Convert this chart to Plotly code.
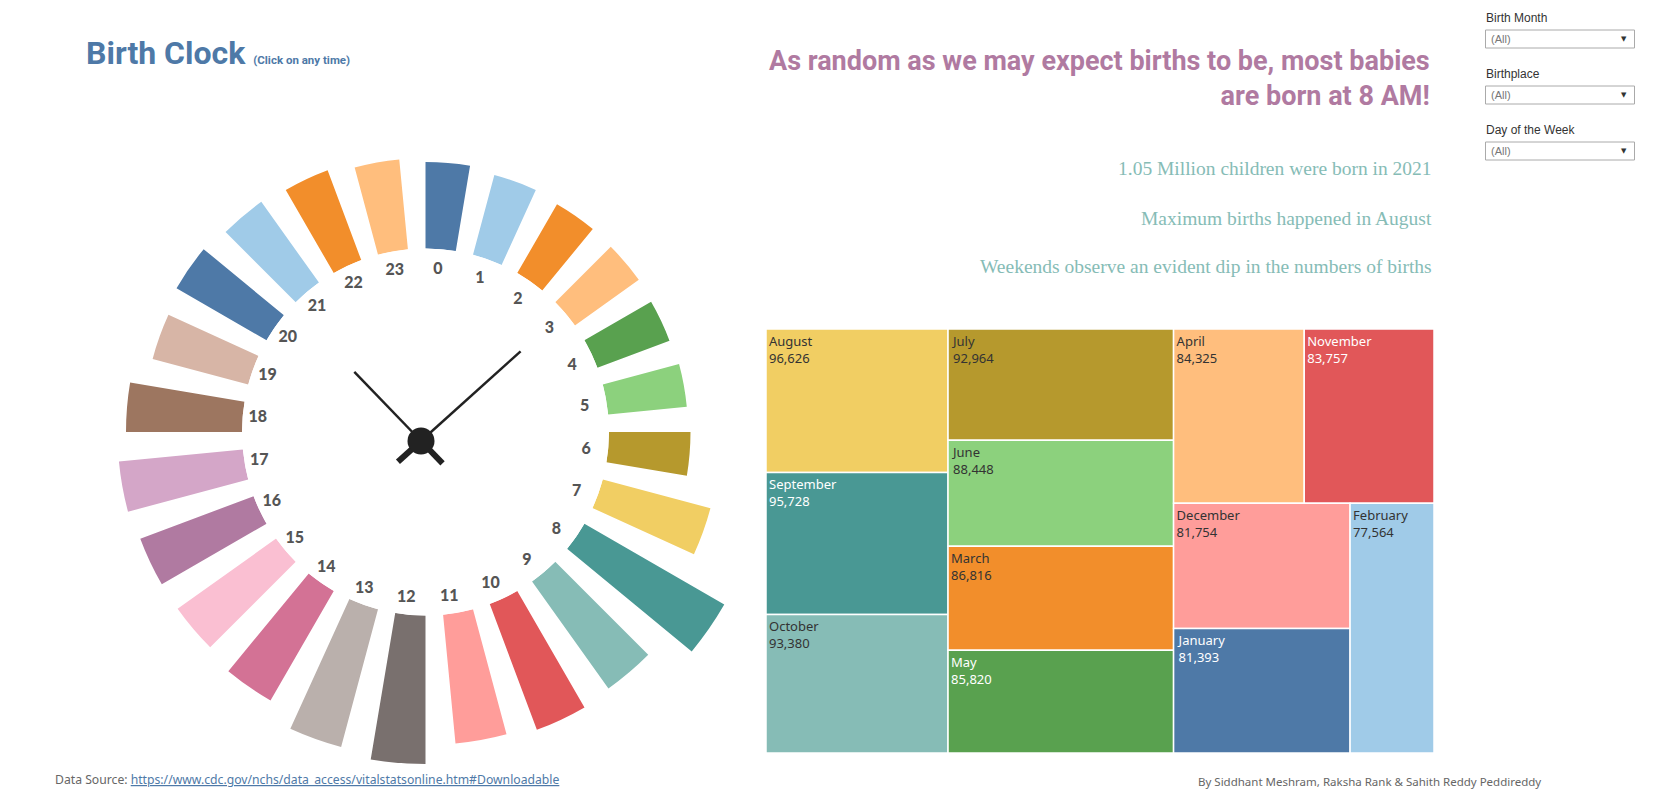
import plotly.graph_objects as go

W, H = 1677, 792

# ---------------- data ----------------
hours = list(range(24))
hour_labels = [str(h) for h in hours]
hour_births = [34600, 33000, 31800, 31400, 30800, 31600, 32600, 44600, 64600, 52600, 53800, 51800,
               59400, 57000, 50600, 48400, 48400, 49800, 46400, 39600, 41600, 39700, 38400, 36100]
hour_colors = ["#4e79a7", "#a0cbe8", "#f28e2b", "#ffbe7d", "#59a14f", "#8cd17d", "#b6992d", "#f1ce63",
               "#499894", "#86bcb6", "#e15759", "#ff9d9a", "#79706e", "#bab0ac", "#d37295", "#fabfd2",
               "#b07aa1", "#d4a6c8", "#9d7660", "#d7b5a6", "#4e79a7", "#a0cbe8", "#f28e2b", "#ffbe7d"]

months = ["January", "February", "March", "April", "May", "June", "July", "August",
          "September", "October", "November", "December"]
month_births = [81393, 77564, 86816, 84325, 85820, 88448, 92964, 96626, 95728, 93380, 83757, 81754]
month_colors = ["#4e79a7", "#a0cbe8", "#f28e2b", "#ffbe7d", "#59a14f", "#8cd17d", "#b6992d", "#f1ce63",
                "#499894", "#86bcb6", "#e15759", "#ff9d9a"]
month_text_colors = ["white", "#333333", "#333333", "#333333", "white", "#333333", "#333333", "#333333",
                     "white", "#333333", "white", "#333333"]

filters = ["Birth Month", "Birthplace", "Day of the Week"]
insights = ["1.05 Million children were born in 2021",
            "Maximum births happened in August",
            "Weekends observe an evident dip in the numbers of births"]

# clock hands (angle in degrees clockwise from 12, length in px)
hand_angles = [48, 316]
hand_lengths = [134, 96]
tail_length = 31


def px_x(x):
    return x / W


def px_y(y):
    return 1 - y / H


def dom(cx, cy, r):
    return dict(x=[px_x(cx - r), px_x(cx + r)], y=[px_y(cy + r), px_y(cy - r)])


ring_cx, ring_cy, ring_R = 425.5, 432, 350
inner_r = 183.5
hole = inner_r / ring_R
rmax = 66600

fig = go.Figure()

fig.add_trace(go.Barpolar(
    r=hour_births, theta=[h * 15 for h in hours], width=[9.5] * 24,
    marker=dict(color=hour_colors, line=dict(width=0)),
    subplot="polar", hovertemplate="Hour %{theta}<br>%{r:,}<extra></extra>"))

fig.add_trace(go.Scatterpolar(
    r=[165] * 24, theta=[h * 15 for h in hours], mode="text", text=hour_labels,
    textfont=dict(family="Lato", size=16, color="#555555", weight=900),
    subplot="polar2", hoverinfo="skip"))

# clock hands
for ang, ln in zip(hand_angles, hand_lengths):
    fig.add_trace(go.Scatterpolar(r=[0, ln], theta=[ang, ang], mode="lines",
                                  line=dict(color="#222222", width=2.5), subplot="polar3",
                                  hoverinfo="skip"))
    fig.add_trace(go.Scatterpolar(r=[0, tail_length], theta=[ang + 180, ang + 180], mode="lines",
                                  line=dict(color="#222222", width=6), subplot="polar3",
                                  hoverinfo="skip"))
fig.add_trace(go.Scatterpolar(r=[0], theta=[0], mode="markers",
                              marker=dict(size=27, color="#222222"), subplot="polar3",
                              hoverinfo="skip"))

fig.add_trace(go.Treemap(
    labels=months, parents=[""] * 12, values=month_births,
    marker=dict(colors=month_colors, line=dict(color="white", width=1.5),
                pad=dict(t=0, l=0, r=0, b=0)),
    texttemplate="%{label}<br>%{value:,}", textposition="top left",
    textfont=dict(family="Noto Sans", size=13, color=month_text_colors),
    tiling=dict(packing="squarify", squarifyratio=1.618, pad=0),
    pathbar=dict(visible=False), sort=True,
    domain=dict(x=[px_x(766), px_x(1434)], y=[px_y(753), px_y(329)]),
    hovertemplate="%{label}<br>%{value:,}<extra></extra>"))

hidden_axis = dict(visible=False, showgrid=False, showline=False, showticklabels=False, ticks="")

fig.update_layout(
    width=W, height=H, margin=dict(l=0, r=0, t=0, b=0),
    paper_bgcolor="white", plot_bgcolor="white", showlegend=False,
    polar=dict(domain=dom(ring_cx, ring_cy, ring_R), hole=hole, bgcolor="rgba(0,0,0,0)",
               radialaxis=dict(range=[0, rmax], **hidden_axis),
               angularaxis=dict(rotation=85.25, direction="clockwise", **hidden_axis)),
    polar2=dict(domain=dom(422, 434, ring_R), bgcolor="rgba(0,0,0,0)",
                radialaxis=dict(range=[0, ring_R], **hidden_axis),
                angularaxis=dict(rotation=84.5, direction="clockwise", **hidden_axis)),
    polar3=dict(domain=dom(421, 441, 150), bgcolor="rgba(0,0,0,0)",
                radialaxis=dict(range=[0, 150], **hidden_axis),
                angularaxis=dict(rotation=90, direction="clockwise", **hidden_axis)),
)

ann = []
ann.append(dict(x=px_x(84), y=px_y(53), xref="paper", yref="paper", xanchor="left", yanchor="middle",
                showarrow=False,
                text="<span style='font-size:32px'>Birth Clock</span> "
                     "<span style='font-size:11.5px'>(Click on any time)</span>",
                font=dict(family="Roboto", size=32, color="#4e79a7", weight="bold")))
ann.append(dict(x=px_x(1432), y=px_y(79), xref="paper", yref="paper", xanchor="right", yanchor="middle",
                showarrow=False, align="right",
                text="As random as we may expect births to be, most babies<br>are born at 8 AM!",
                font=dict(family="Roboto", size=27, color="#b07aa1", weight="bold")))
for t, yy in zip(insights, [169, 219, 266]):
    ann.append(dict(x=px_x(1434), y=px_y(yy), xref="paper", yref="paper", xanchor="right",
                    yanchor="middle", showarrow=False, text=t,
                    font=dict(family="Liberation Serif", size=19.5, color="#86bcb6")))
ann.append(dict(x=px_x(53), y=px_y(779), xref="paper", yref="paper", xanchor="left", yanchor="middle",
                showarrow=False,
                text="Data Source: <a href='https://www.cdc.gov/nchs/data_access/vitalstatsonline.htm#Downloadable' "
                     "style='color:#4e79a7;text-decoration:underline'>"
                     "https://www.cdc.gov/nchs/data_access/vitalstatsonline.htm#Downloadable</a>",
                font=dict(family="Noto Sans", size=12.2, color="#666666")))
ann.append(dict(x=px_x(1196), y=px_y(781), xref="paper", yref="paper", xanchor="left", yanchor="middle",
                showarrow=False, text="By Siddhant Meshram, Raksha Rank & Sahith Reddy Peddireddy",
                font=dict(family="Noto Sans", size=11.5, color="#666666")))

shapes = []
for i, f in enumerate(filters):
    ly = 18 + i * 56
    by0, by1 = 30 + i * 56, 48 + i * 56
    ann.append(dict(x=px_x(1484), y=px_y(ly), xref="paper", yref="paper", xanchor="left", yanchor="middle",
                    showarrow=False, text=f, font=dict(family="Liberation Sans", size=12, color="#333333")))
    shapes.append(dict(type="rect", xref="paper", yref="paper", x0=px_x(1485.5), x1=px_x(1634.5),
                       y0=px_y(by1), y1=px_y(by0), line=dict(color="#aaaaaa", width=1),
                       fillcolor="white"))
    ann.append(dict(x=px_x(1489), y=px_y((by0 + by1) / 2), xref="paper", yref="paper", xanchor="left",
                    yanchor="middle", showarrow=False, text="(All)",
                    font=dict(family="Liberation Sans", size=11, color="#777777")))
    ann.append(dict(x=px_x(1624), y=px_y((by0 + by1) / 2), xref="paper", yref="paper", xanchor="center",
                    yanchor="middle", showarrow=False, text="▼",
                    font=dict(family="DejaVu Sans", size=7, color="#333333")))

fig.update_layout(annotations=ann, shapes=shapes)

fig.write_html("out.html")
